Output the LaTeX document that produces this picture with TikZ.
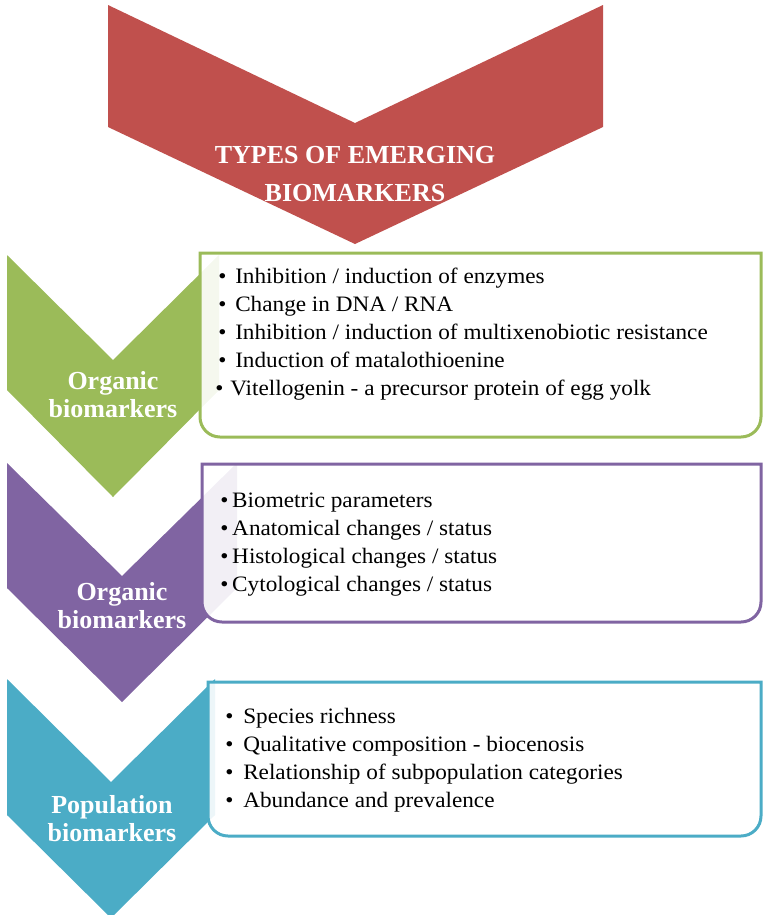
\documentclass[tikz,border=0pt]{standalone}
\usepackage{fontspec}
\setmainfont{Liberation Serif}
\newfontfamily\listfont[FakeStretch=1.055]{Liberation Serif}
\definecolor{cred}{HTML}{C0504D}
\definecolor{cgreen}{HTML}{9BBB59}
\definecolor{cpurple}{HTML}{8064A2}
\definecolor{cblue}{HTML}{4BACC6}
\newcommand\bitem[3]{\hspace*{#1}\makebox[#2][l]{•}#3}
\tikzset{
  chev/.style={fill=#1, draw=none},
  listbox/.style={draw=#1, line width=2.25pt, fill=white, fill opacity=0.9},
  listtext/.style={anchor=base west, inner sep=0pt, font=\listfont\fontsize{16.5}{21}\selectfont, text=black},
  chevlabel/.style={anchor=base, inner sep=0pt, text=white, font=\fontsize{19.5}{21}\selectfont\bfseries},
}
\begin{document}
\begin{tikzpicture}[x=0.75pt, y=-0.75pt]
\useasboundingbox (0,0) rectangle (763,915);
% title chevron
\path[chev=cred] (108,5) -- (355,123) -- (603,5) -- (603,127) -- (355,244) -- (108,127) -- cycle;
\node[chevlabel, font=\fontsize{19.5}{29}\selectfont\bfseries] (title) at (355,163)
  {\begin{tabular}[t]{@{}c@{}}TYPES OF EMERGING\\BIOMARKERS\end{tabular}};
% green
\path[chev=cgreen] (7,255) -- (113,360) -- (219,255) -- (219,390) -- (113,497) -- (7,390) -- cycle;
\draw[listbox=cgreen] (200,345) -- (200,253) -- (761,253) [rounded corners=15pt] -- (761,437) -- (200,437) [sharp corners] -- cycle;
\node[chevlabel] (gl) at (113,389) {\begin{tabular}[t]{@{}c@{}}Organic\\biomarkers\end{tabular}};
\node[listtext] (gt) at (200,283) {\begin{tabular}[t]{@{}l@{}}
\bitem{13.5pt}{12.75pt}{Inhibition / induction of enzymes}\\
\bitem{13.5pt}{12.75pt}{Change in DNA / RNA}\\
\bitem{13.5pt}{12.75pt}{Inhibition / induction of multixenobiotic resistance}\\
\bitem{13.5pt}{12.75pt}{Induction of matalothioenine}\\
\bitem{11.25pt}{11.25pt}{Vitellogenin - a precursor protein of egg yolk}
\end{tabular}};
% purple
\path[chev=cpurple] (7,463) -- (122,576) -- (237,463) -- (237,588) -- (122,702) -- (7,588) -- cycle;
\draw[listbox=cpurple] (202,540) -- (202,464) -- (761,464) [rounded corners=15pt] -- (761,622) -- (202,622) [sharp corners] -- cycle;
\node[chevlabel] (pl) at (122,600) {\begin{tabular}[t]{@{}c@{}}Organic\\biomarkers\end{tabular}};
\node[listtext] (pt) at (202,507) {\begin{tabular}[t]{@{}l@{}}
\bitem{13.5pt}{9pt}{Biometric parameters}\\
\bitem{13.5pt}{9pt}{Anatomical changes / status}\\
\bitem{13.5pt}{9pt}{Histological changes / status}\\
\bitem{13.5pt}{9pt}{Cytological changes / status}
\end{tabular}};
% blue
\path[chev=cblue] (7,679) -- (111,782) -- (215,679) -- (215,815) -- (111,918) -- (7,815) -- cycle;
\draw[listbox=cblue] (208,760) -- (208,682) -- (761,682) [rounded corners=15pt] -- (761,836) -- (208,836) [sharp corners] -- cycle;
\node[chevlabel] (bl) at (112,813) {\begin{tabular}[t]{@{}c@{}}Population\\biomarkers\end{tabular}};
\node[listtext] (bt) at (208,723) {\begin{tabular}[t]{@{}l@{}}
\bitem{12.75pt}{13.5pt}{Species richness}\\
\bitem{12.75pt}{13.5pt}{Qualitative composition - biocenosis}\\
\bitem{12.75pt}{13.5pt}{Relationship of subpopulation categories}\\
\bitem{12.75pt}{13.5pt}{Abundance and prevalence}
\end{tabular}};
\end{tikzpicture}
\end{document}
